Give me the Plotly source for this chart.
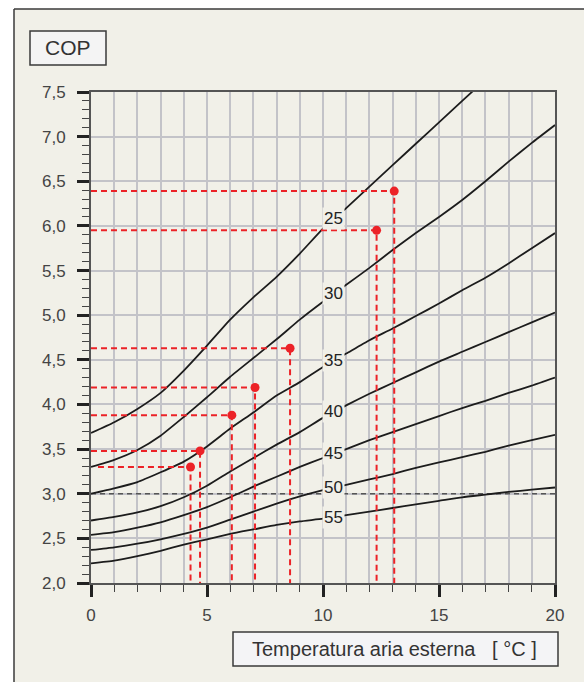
import numpy as np
import plotly.graph_objects as go

# outdoor air temperature (°C) at which the curves were read
temp_x = list(range(0, 21))

# COP curves, one per flow temperature (°C); curve 25 leaves the chart near 16.4 °C
cop_25 = [3.68, 3.80, 3.95, 4.13, 4.38, 4.66, 4.95, 5.20, 5.43, 5.69, 5.97,
          6.20, 6.44, 6.68, 6.92, 7.16, 7.40, 7.64]
cop_30 = [3.30, 3.38, 3.49, 3.65, 3.86, 4.08, 4.31, 4.52, 4.73, 4.95, 5.15,
          5.34, 5.53, 5.73, 5.92, 6.10, 6.29, 6.50, 6.72, 6.93, 7.13]
cop_35 = [3.00, 3.06, 3.13, 3.24, 3.36, 3.53, 3.73, 3.91, 4.10, 4.25, 4.42,
          4.57, 4.72, 4.85, 4.99, 5.13, 5.28, 5.42, 5.58, 5.75, 5.92]
cop_40 = [2.70, 2.74, 2.79, 2.86, 2.96, 3.09, 3.25, 3.40, 3.55, 3.69, 3.85,
          3.99, 4.12, 4.24, 4.36, 4.48, 4.59, 4.70, 4.81, 4.92, 5.03]
cop_45 = [2.54, 2.57, 2.62, 2.68, 2.76, 2.85, 2.96, 3.08, 3.19, 3.30, 3.40,
          3.50, 3.60, 3.69, 3.78, 3.87, 3.96, 4.04, 4.13, 4.21, 4.30]
cop_50 = [2.37, 2.40, 2.44, 2.49, 2.55, 2.62, 2.71, 2.80, 2.89, 2.97, 3.04,
          3.10, 3.16, 3.22, 3.29, 3.35, 3.41, 3.47, 3.54, 3.60, 3.66]
cop_55 = [2.22, 2.25, 2.30, 2.36, 2.43, 2.49, 2.55, 2.60, 2.65, 2.69, 2.72,
          2.76, 2.80, 2.84, 2.88, 2.92, 2.96, 2.99, 3.02, 3.045, 3.07]

curve_names = ["25", "30", "35", "40", "45", "50", "55"]
curve_values = [cop_25, cop_30, cop_35, cop_40, cop_45, cop_50, cop_55]

# red working points
point_x = [4.29, 4.70, 6.07, 7.07, 8.58, 12.31, 13.07]
point_y = [3.30, 3.48, 3.88, 4.19, 4.63, 5.95, 6.39]
point_start_x = [0.3, 0, 0, 0, 0, 0, 0]

cop_limit = 3.0
label_at_x = 10.47

PANEL = "#f1f0e8"
GRID = "#c3c3c8"
RED = "#ec2227"
FONT = "Liberation Sans, Arial, Helvetica, sans-serif"

W, H = 584, 682
# plot area in pixels, used to place boxes in paper coordinates
L, R, T, B = 91, 555, 92, 583


def px(x):
    return (x - L) / (R - L)


def py(y):
    return (B - y) / (B - T)


fig = go.Figure()

fig.add_trace(go.Scatter(
    x=[0, 20], y=[cop_limit, cop_limit], mode="lines",
    line=dict(color="#555555", width=1.3, dash="5px,4px"), hoverinfo="skip"
))

for name, ys in zip(curve_names, curve_values):
    fig.add_trace(go.Scatter(
        x=temp_x[:len(ys)], y=ys, mode="lines", name=name,
        line=dict(color="#1c1c1c", width=1.8, shape="spline", smoothing=0.5)
    ))

for x0, xp, yp in zip(point_start_x, point_x, point_y):
    fig.add_trace(go.Scatter(
        x=[x0, xp, xp], y=[yp, yp, 2.0], mode="lines",
        line=dict(color=RED, width=2, dash="6px,4px"), hoverinfo="skip"
    ))

fig.add_trace(go.Scatter(
    x=point_x, y=point_y, mode="markers",
    marker=dict(color=RED, size=9), hoverinfo="skip"
))

for name, ys in zip(curve_names, curve_values):
    fig.add_annotation(
        x=label_at_x, y=float(np.interp(label_at_x, temp_x[:len(ys)], ys)),
        text=name, showarrow=False, bgcolor=PANEL, borderpad=1,
        font=dict(size=17, color="#222222", family=FONT)
    )

# outer panel: fill plus a border on the left and top only
fig.add_shape(type="rect", xref="paper", yref="paper",
              x0=px(14), x1=px(600), y0=py(700), y1=py(9),
              fillcolor=PANEL, line=dict(width=0), layer="below")
fig.add_shape(type="line", xref="paper", yref="paper",
              x0=px(14), x1=px(14), y0=py(700), y1=py(9),
              line=dict(color="#3a3a3a", width=1.5), layer="below")
fig.add_shape(type="line", xref="paper", yref="paper",
              x0=px(14), x1=px(600), y0=py(9), y1=py(9),
              line=dict(color="#3a3a3a", width=1.5), layer="below")

# title boxes
fig.add_shape(type="rect", xref="paper", yref="paper",
              x0=px(30), x1=px(106), y0=py(65), y1=py(31),
              fillcolor="#f4f4f4", line=dict(color="#3a3a3a", width=1.5))
fig.add_shape(type="rect", xref="paper", yref="paper",
              x0=px(233), x1=px(558), y0=py(666), y1=py(632),
              fillcolor="#f4f4f6", line=dict(color="#3a3a3a", width=1.5))

fig.add_annotation(xref="paper", yref="paper", x=px(68), y=py(48),
                   text="COP", showarrow=False, xanchor="center", yanchor="middle",
                   font=dict(size=21, color="#333333", family=FONT))
fig.add_annotation(xref="paper", yref="paper", x=px(394), y=py(649),
                   text="Temperatura aria esterna \u00a0\u00a0[ °C ]", showarrow=False,
                   xanchor="center", yanchor="middle",
                   font=dict(size=20, color="#333333", family=FONT))

fig.update_layout(
    width=W, height=H,
    margin=dict(l=L, r=W - R, t=T, b=H - B),
    paper_bgcolor="white", plot_bgcolor=PANEL,
    showlegend=False,
    separators=",.",
    font=dict(family=FONT, size=17, color="#444444"),
    xaxis=dict(
        range=[0, 20], tick0=0, dtick=5, tickformat="d",
        ticks="outside", ticklen=12, tickwidth=2.5, tickcolor="#222222",
        showgrid=True, gridcolor=GRID, gridwidth=1.5,
        showline=True, linecolor="#555555", linewidth=2, mirror=True,
        zeroline=False, ticklabelstandoff=4,
        minor=dict(dtick=1, ticks="outside", ticklen=7, tickwidth=1.2,
                   tickcolor="#444444", showgrid=True, gridcolor=GRID, gridwidth=1.5),
    ),
    yaxis=dict(
        range=[2, 7.5], tick0=2, dtick=0.5, tickformat=".1f",
        ticks="outside", ticklen=12, tickwidth=2.5, tickcolor="#222222",
        showgrid=True, gridcolor=GRID, gridwidth=1.5,
        showline=True, linecolor="#555555", linewidth=2, mirror=True,
        zeroline=False, ticklabelstandoff=8,
        minor=dict(dtick=0.1, ticks="outside", ticklen=7, tickwidth=1.2,
                   tickcolor="#444444", showgrid=False),
    ),
)

# drop the default 8px page margin so the figure fills the window exactly
fig.write_html("out.html", config={"displayModeBar": False},
               post_script="document.body.style.margin = '0';")
